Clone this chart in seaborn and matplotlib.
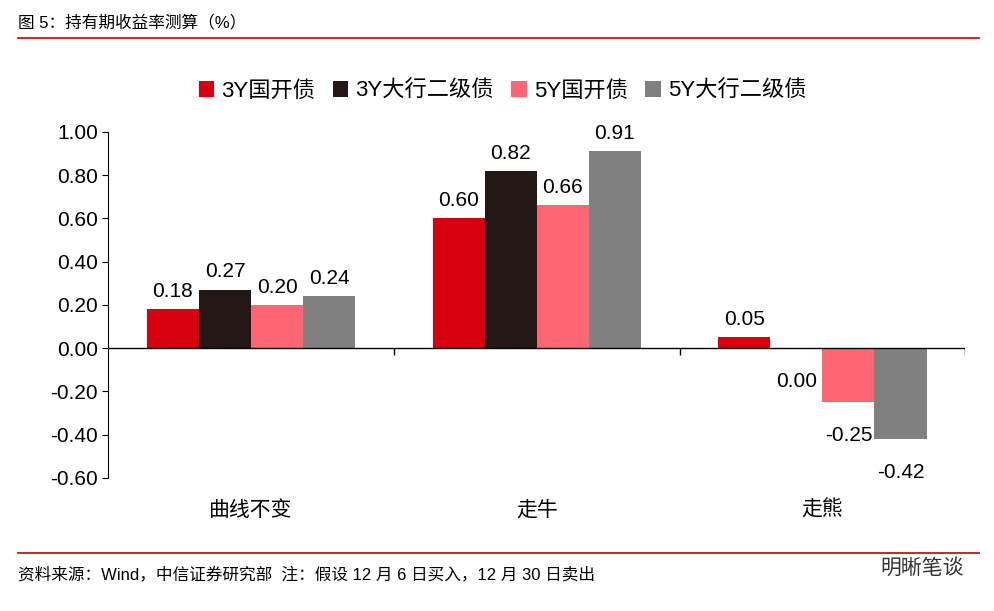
import numpy as np
import pandas as pd
import matplotlib.pyplot as plt
import seaborn as sns

plt.rcParams["font.family"] = ["Liberation Sans", "Noto Sans CJK SC"]
plt.rcParams["axes.unicode_minus"] = False

# data
categories = ["曲线不变", "走牛", "走熊"]
series = ["3Y国开债", "3Y大行二级债", "5Y国开债", "5Y大行二级债"]
values = {
    "3Y国开债":     [0.18, 0.60, 0.05],
    "3Y大行二级债": [0.27, 0.82, 0.00],
    "5Y国开债":     [0.20, 0.66, -0.25],
    "5Y大行二级债": [0.24, 0.91, -0.42],
}
yticks = [-0.6, -0.4, -0.2, 0.0, 0.2, 0.4, 0.6, 0.8, 1.0]
colors = ["#D7000F", "#231815", "#FF6673", "#808080"]

rows = [(c, s, values[s][i]) for s in series for i, c in enumerate(categories)]
df = pd.DataFrame(rows, columns=["cat", "series", "val"])

fig = plt.figure(figsize=(9.94, 6.11), dpi=100)
ax = fig.add_axes([0.109, 0.218, 0.862, 0.566])
sns.barplot(data=df, x="cat", y="val", hue="series", order=categories,
            hue_order=series, palette=colors, width=0.73, saturation=1,
            ax=ax, legend=True)

for cont in ax.containers:
    for bar in cont:
        v = bar.get_height()
        x = bar.get_x() + bar.get_width() / 2
        if v > 0:
            ax.annotate(f"{v:.2f}", (x, v), xytext=(0, 6), textcoords="offset points",
                        ha="center", va="bottom", fontsize=15)
        else:
            ax.annotate(f"{v:.2f}", (x, v), xytext=(0, -17), textcoords="offset points",
                        ha="center", va="top", fontsize=15)

ax.set_ylim(-0.6, 1.0)
ax.set_xlim(-0.5, 2.5)
ax.set_yticks(yticks)
ax.set_yticklabels([f"{t:.2f}" for t in yticks], fontsize=15)
ax.tick_params(axis="x", length=0, pad=16, labelsize=15)
ax.tick_params(axis="y", length=4, direction="out")
ax.set_xlabel("")
ax.set_ylabel("")
for s in ["top", "right", "bottom"]:
    ax.spines[s].set_visible(False)
ax.spines["left"].set_color("black")
ax.axhline(0, color="black", lw=1)
ax.vlines([0.5, 1.5, 2.5], -0.03, 0, color="black", lw=1)

ax.legend(loc="lower center", bbox_to_anchor=(0.46, 1.03), ncol=4, frameon=False,
          fontsize=16, handlelength=0.7, handleheight=0.7, columnspacing=0.8,
          handletextpad=0.3)

fig.text(0.018, 0.963, "图 5：持有期收益率测算（%）", fontsize=12, va="center")
fig.add_artist(plt.Line2D([0.018, 0.985], [0.938, 0.938], color="#C00000", lw=1.2))
fig.add_artist(plt.Line2D([0.018, 0.985], [0.095, 0.095], color="#C00000", lw=1.2))
fig.text(0.018, 0.06, "资料来源：Wind，中信证券研究部  注：假设 12 月 6 日买入，12 月 30 日卖出",
         fontsize=12, va="center")
fig.text(0.97, 0.07, "明晰笔谈", fontsize=15, ha="right", va="center", color="#333333")

fig.savefig("out.png", dpi=100)
